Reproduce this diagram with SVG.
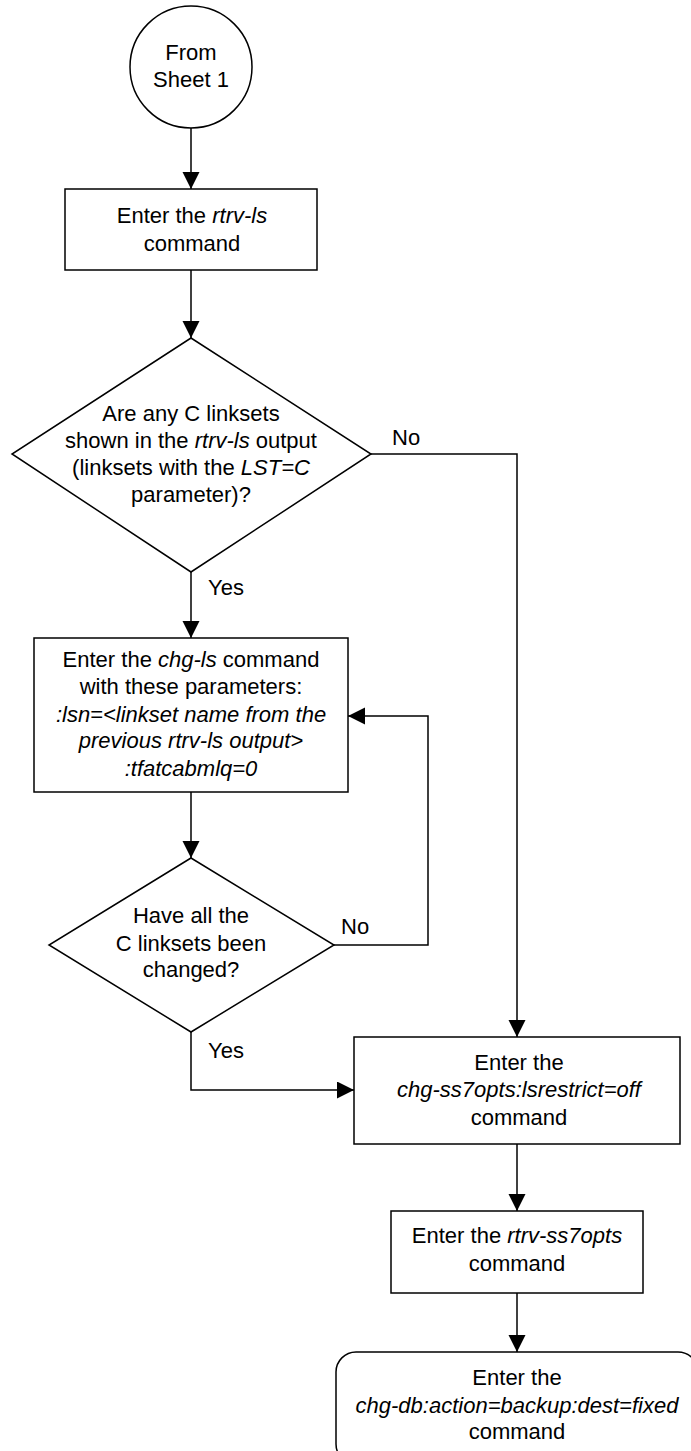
<svg xmlns="http://www.w3.org/2000/svg" width="691" height="1451" viewBox="0 0 691 1451">
<style>
.s{fill:#fff;stroke:#000;stroke-width:1.5}
.c{fill:none;stroke:#000;stroke-width:1.5}
text{font-family:"Liberation Sans",Arial,Helvetica,sans-serif;font-size:22px;fill:#000}
.m{text-anchor:middle}
.i{font-style:italic}
</style>
<defs>
<marker id="a" markerUnits="userSpaceOnUse" markerWidth="18" markerHeight="18" refX="17" refY="8.5" orient="auto">
<path d="M0,0 L17,8.5 L0,17 z" fill="#000"/>
</marker>
</defs>
<rect width="691" height="1451" fill="#fff"/>
<g id="connectors">
<path class="c" d="M191,128 V189" marker-end="url(#a)"/>
<path class="c" d="M191,270 V338" marker-end="url(#a)"/>
<path class="c" d="M191,572 V638" marker-end="url(#a)"/>
<path class="c" d="M191,792 V858" marker-end="url(#a)"/>
<path class="c" d="M334,945 H428 V716 H348" marker-end="url(#a)"/>
<path class="c" d="M371,454 H517 V1037" marker-end="url(#a)"/>
<path class="c" d="M191,1032 V1090 H354" marker-end="url(#a)"/>
<path class="c" d="M517,1144 V1211" marker-end="url(#a)"/>
<path class="c" d="M517,1293 V1352" marker-end="url(#a)"/>
<text x="392" y="445">No</text>
<text x="208" y="595">Yes</text>
<text x="341" y="934">No</text>
<text x="208" y="1058">Yes</text>
</g>
<g id="start">
<circle class="s" cx="191" cy="67" r="61"/>
<text class="m" x="191" y="60">From</text>
<text class="m" x="191" y="87">Sheet 1</text>
</g>
<g id="rtrv-ls">
<rect class="s" x="65" y="189" width="252" height="81"/>
<text class="m" x="192" y="223">Enter the <tspan class="i">rtrv-ls</tspan></text>
<text class="m" x="192" y="251">command</text>
</g>
<g id="decision1">
<polygon class="s" points="191,338 371,454 191,572 12,454"/>
<text class="m" x="191" y="421">Are any C linksets</text>
<text class="m" x="191" y="448">shown in the <tspan class="i">rtrv-ls</tspan> output</text>
<text class="m" x="191" y="475">(linksets with the <tspan class="i">LST=C</tspan></text>
<text class="m" x="191" y="502">parameter)?</text>
</g>
<g id="chg-ls">
<rect class="s" x="34" y="638" width="314" height="154"/>
<text class="m" x="191" y="667">Enter the <tspan class="i">chg-ls</tspan> command</text>
<text class="m" x="191" y="694">with these parameters:</text>
<text class="m i" x="191" y="722">:lsn=&lt;linkset name from the</text>
<text class="m i" x="191" y="748">previous rtrv-ls output&gt;</text>
<text class="m i" x="191" y="776">:tfatcabmlq=0</text>
</g>
<g id="decision2">
<polygon class="s" points="191,858 334,945 191,1032 49,945"/>
<text class="m" x="191" y="923">Have all the</text>
<text class="m" x="191" y="951">C linksets been</text>
<text class="m" x="191" y="977">changed?</text>
</g>
<g id="chg-ss7opts">
<rect class="s" x="354" y="1037" width="326" height="107"/>
<text class="m" x="519" y="1070">Enter the</text>
<text class="m i" x="519" y="1097">chg-ss7opts:lsrestrict=off</text>
<text class="m" x="519" y="1125">command</text>
</g>
<g id="rtrv-ss7opts">
<rect class="s" x="391" y="1211" width="252" height="82"/>
<text class="m" x="517" y="1243">Enter the <tspan class="i">rtrv-ss7opts</tspan></text>
<text class="m" x="517" y="1271">command</text>
</g>
<g id="chg-db">
<rect class="s" x="336" y="1352" width="362" height="112" rx="20" ry="20"/>
<text class="m" x="517" y="1385">Enter the</text>
<text class="m i" x="517" y="1413">chg-db:action=backup:dest=fixed</text>
<text class="m" x="517" y="1439">command</text>
</g>
</svg>
